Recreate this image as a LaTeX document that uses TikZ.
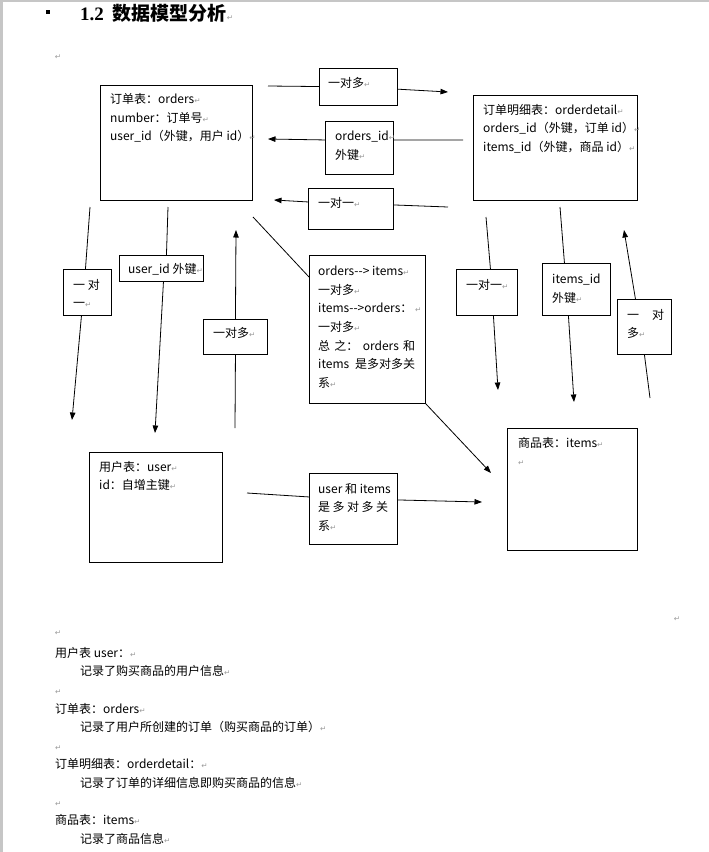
\documentclass[tikz,border=0pt]{standalone}
\usepackage{fontspec}
\setmainfont{Noto Sans CJK SC}
\newfontfamily\arrowfnt{DejaVu Sans}
\newfontfamily\headfnt{Liberation Serif}
\usetikzlibrary{positioning,arrows.meta}

\newcommand{\crmark}{{\arrowfnt\fontsize{7.5}{7.5}\selectfont\textcolor{gray!80}{↵}}}

\tikzset{
  tbl/.style={draw, line width=0.9pt, anchor=north west, inner sep=0pt},
  boxtxt/.style={anchor=north west, inner sep=0pt, align=left, font=\fontsize{12}{18.6}\selectfont},
  rel/.style={line width=0.8pt},
  relarrow/.style={rel, -{Triangle[length=7.5pt,width=5.5pt]}},
}

\begin{document}
\begin{tikzpicture}[x=1pt,y=-1pt]
\useasboundingbox (0,0) rectangle (709,852);
% The window edge
\fill[gray!45] (0,0) rectangle (2.5,852);
\fill[gray!45] (0,0) rectangle (709,1.5);

% Heading
\fill (46,10) rectangle (50,14);
\node[anchor=base west, inner sep=0pt, font=\fontsize{19}{20}\selectfont] (head) at (80,20)
  {{\headfnt\bfseries 1.2}\hspace{9pt}{\bfseries 数据模型分析}\crmark};
\node[inner sep=0pt] (mk1) at (58,57) {\crmark};
\node[inner sep=0pt] (mk2) at (677,619) {\crmark};

% The tables
\node[tbl, minimum width=152pt, minimum height=115pt] (ord) at (100,85) {};
\node[tbl, minimum width=164pt, minimum height=105pt] (odt) at (473,95) {};
\node[tbl, minimum width=130pt, minimum height=122pt] (itm) at (507,428) {};
\node[tbl, minimum width=133pt, minimum height=110pt] (usr) at (89,452) {};
% The relation labels
\node[tbl, minimum width=78pt, minimum height=37pt] (om1) at (319,68) {};
\node[tbl, minimum width=68pt, minimum height=53pt] (oid) at (325,121) {};
\node[tbl, minimum width=85pt, minimum height=41pt] (oo1) at (308,188) {};
\node[tbl, minimum width=48pt, minimum height=46pt] (uo1) at (63,269) {};
\node[tbl, minimum width=84pt, minimum height=26pt] (uid) at (119,255) {};
\node[tbl, minimum width=64pt, minimum height=35pt] (uom) at (203,319) {};
\node[tbl, minimum width=116pt, minimum height=148pt] (note) at (309,255) {};
\node[tbl, minimum width=61pt, minimum height=46pt] (io1) at (456,269) {};
\node[tbl, minimum width=68pt, minimum height=52pt] (iid) at (542,263) {};
\node[tbl, minimum width=54pt, minimum height=55pt] (iom) at (617,299) {};
\node[tbl, minimum width=88pt, minimum height=71pt] (uim) at (309,473) {};

% Texts in the boxes
\node[boxtxt, below right=8.5pt and 10pt of ord.north west] (ordtxt)
  {订单表：orders\crmark\\ number：订单号\crmark\\ user\_id（外键，用户 id）\crmark};
\node[boxtxt, below right=9pt and 10pt of odt.north west] (odttxt)
  {订单明细表：orderdetail\crmark\\ orders\_id（外键，订单 id）\crmark\\ items\_id（外键，商品 id）\crmark};
\node[boxtxt, below right=9pt and 11pt of itm.north west] (itmtxt)
  {商品表：items\crmark\\ \crmark};
\node[boxtxt, below right=9pt and 10pt of usr.north west] (usrtxt)
  {用户表：user\crmark\\ id：自增主键\crmark};
\node[boxtxt, below right=9pt and 9pt of om1.north west] (om1txt) {一对多\crmark};
\node[boxtxt, below right=10pt and 10pt of oid.north west] (oidtxt) {orders\_id\crmark\\ 外键\crmark};
\node[boxtxt, below right=9pt and 10pt of oo1.north west] (oo1txt) {一对一\crmark};
\node[boxtxt, below right=10pt and 10pt of uo1.north west] (uo1txt) {一 对\\ 一\crmark};
\node[boxtxt, below right=8pt and 9pt of uid.north west] (uidtxt) {user\_id 外键\crmark};
\node[boxtxt, below right=8pt and 10pt of uom.north west] (uomtxt) {一对多\crmark};
\node[boxtxt, below right=11pt and 9pt of note.north west] (notetxt)
  {orders-{}-> items\crmark\\ 一对多\crmark\\ items-{}->orders： \crmark\\ 一对多\crmark\\
   \makebox[97pt][s]{总\hfil 之：\hfil orders\hfil 和}\\
   \makebox[97pt][s]{items\hfil 是多对多关}\\ 系\crmark};
\node[boxtxt, below right=10pt and 10pt of io1.north west] (io1txt) {一对一\crmark};
\node[boxtxt, below right=11pt and 10pt of iid.north west] (iidtxt) {items\_id\\ 外键\crmark};
\node[boxtxt, below right=10pt and 10pt of iom.north west] (iomtxt) {\makebox[37pt][s]{一\hfil 对}\\ 多\crmark};
\node[boxtxt, below right=10pt and 9pt of uim.north west] (uimtxt)
  {user 和 items\\ \makebox[70pt][s]{是\hfil 多\hfil 对\hfil 多\hfil 关}\\ 系\crmark};

% Free ends of the connectors
\coordinate (a1) at (268,86);  \coordinate (a2) at (448,92);
\coordinate (b1) at (463,140); \coordinate (b2) at (268,139);
\coordinate (c1) at (448,207); \coordinate (c2) at (274,200);
\coordinate (d1) at (90,207);  \coordinate (d2) at (72,420);
\coordinate (e1) at (168,207); \coordinate (e2) at (155,433);
\coordinate (f1) at (235,428); \coordinate (f2) at (236,230);
\coordinate (g1) at (253,217); \coordinate (g2) at (491,473);
\coordinate (h1) at (247,493); \coordinate (h2) at (482,502);
\coordinate (i1) at (486,217); \coordinate (i2) at (498,390);
\coordinate (j1) at (560,207); \coordinate (j2) at (574,402);
\coordinate (k1) at (650,398); \coordinate (k2) at (624,230);

% The connectors
\draw[rel] (a1) -- (om1);
\draw[relarrow] (om1) -- (a2);
\draw[rel] (b1) -- ([yshift=8pt]oid.east);
\draw[relarrow] ([yshift=8pt]oid.west) -- (b2);
\draw[rel] (c1) -- ([yshift=4pt]oo1.east);
\draw[relarrow] ([yshift=7pt]oo1.west) -- (c2);
\draw[rel] (d1) -- ([xshift=-2pt]uo1.north);
\draw[relarrow] ([xshift=-6pt]uo1.south) -- (d2);
\draw[rel] (e1) -- ([xshift=5pt]uid.north);
\draw[relarrow] ([xshift=2pt]uid.south) -- (e2);
\draw[rel] (f1) -- (uom.south);
\draw[relarrow] (uom.north) -- (f2);
\draw[rel] (g1) -- ([yshift=-22pt]note.north west);
\draw[relarrow] (note.south east) -- (g2);
\draw[rel] (h1) -- ([yshift=12pt]uim.west);
\draw[relarrow] ([yshift=9pt]uim.east) -- (h2);
\draw[rel] (i1) -- ([xshift=3.5pt]io1.north);
\draw[relarrow] ([xshift=6.5pt]io1.south) -- (i2);
\draw[rel] (j1) -- ([xshift=-12pt]iid.north);
\draw[relarrow] ([xshift=-8pt]iid.south) -- (j2);
\draw[rel] (k1) -- (iom.south);
\draw[relarrow] ([xshift=-9pt]iom.north) -- (k2);

% Notes below the diagram
\node[inner sep=0pt] (mk3) at (58,633) {\crmark};
\node[boxtxt] (notes) at (55,647)
  {用户表 user：\crmark\\
   \hspace*{25pt}记录了购买商品的用户信息\crmark\\
   \crmark\\
   订单表：orders\crmark\\
   \hspace*{25pt}记录了用户所创建的订单（购买商品的订单）\crmark\\
   \crmark\\
   订单明细表：orderdetail：\crmark\\
   \hspace*{25pt}记录了订单的详细信息即购买商品的信息\crmark\\
   \crmark\\
   商品表：items\crmark\\
   \hspace*{25pt}记录了商品信息\crmark};
\end{tikzpicture}
\end{document}
